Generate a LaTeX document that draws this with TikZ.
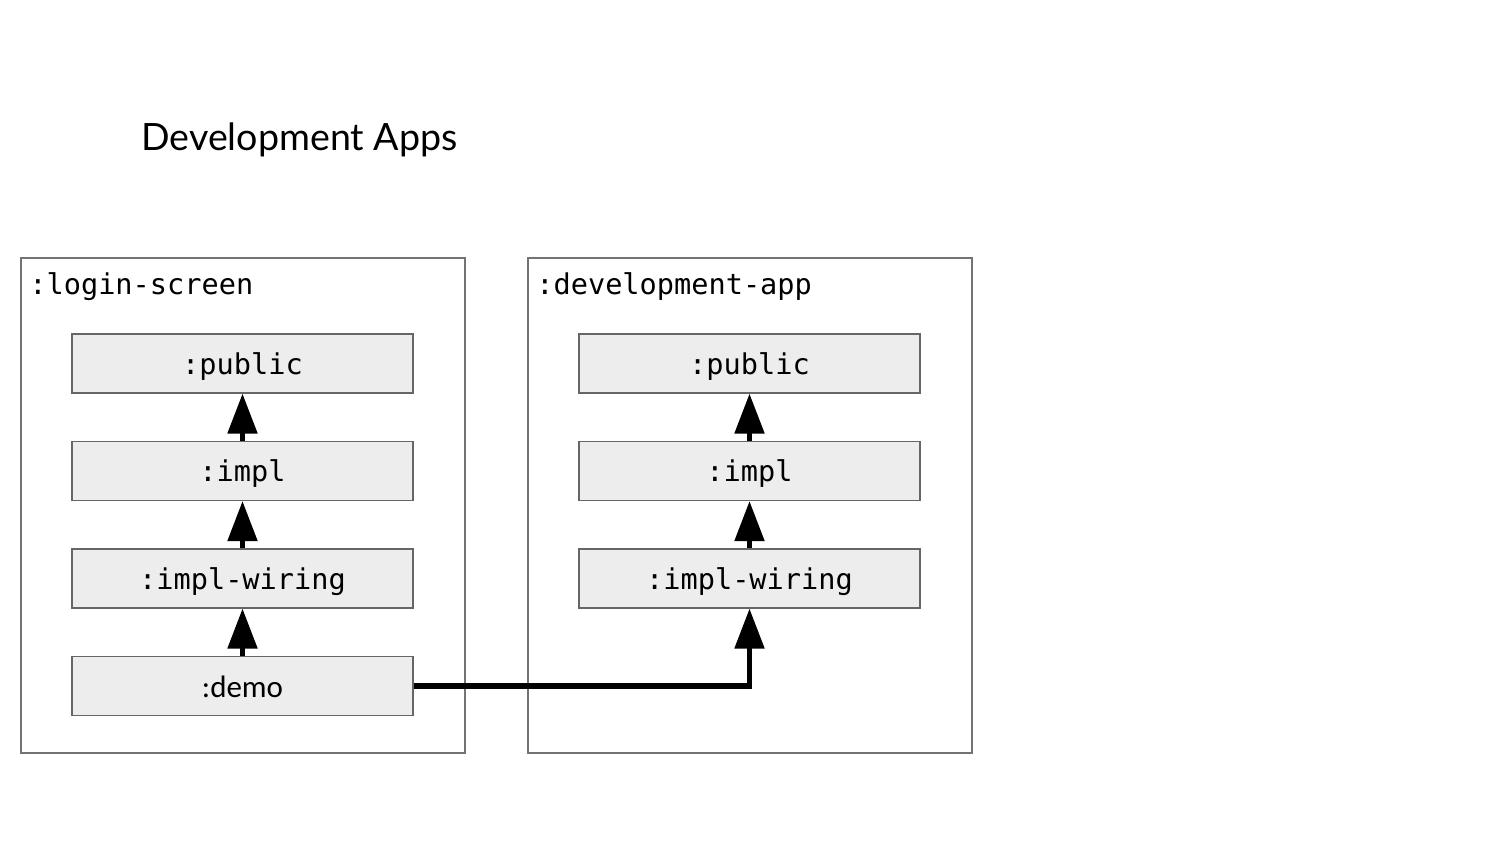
\documentclass[tikz,border=0pt]{standalone}
\usepackage{fontspec}
\setmainfont{Lato}
\newfontfamily\monof{DejaVu Sans Mono}
\newfontfamily\demof{Carlito}
\usetikzlibrary{arrows.meta}
\begin{document}
\begin{tikzpicture}[x=0.5pt,y=-0.5pt,
  outerbox/.style={draw=black!55, line width=0.6pt},
  module/.style={draw=black!60, fill=black!7, line width=0.6pt, minimum width=170.5pt, minimum height=29.5pt, inner sep=0pt, text height=11pt, text depth=0pt, font=\monof\fontsize{14.3}{16}\selectfont},
  dep/.style={line width=2.6pt, -{Triangle[width=14.5pt,length=20pt]}},
  grp/.style={anchor=base west, inner sep=0pt, font=\monof\fontsize{14.3}{16}\selectfont}]
\useasboundingbox (0,0) rectangle (1500,844);
\node[anchor=base west, inner sep=0pt, font=\fontsize{18.8}{22}\selectfont] (title) at (141,151) {Development Apps};
% outer boxes
\draw[outerbox] (21,258) rectangle (465,753);
\draw[outerbox] (528,258) rectangle (972,753);
\node[grp] (lsl) at (29,295) {:login-screen};
\node[grp] (dal) at (536,295) {:development-app};
% left modules
\node[module] (lp) at (242.5,363.5) {:public};
\node[module] (li) at (242.5,471) {:impl};
\node[module] (lw) at (242.5,578.5) {:impl-wiring};
\node[module, font=\demof\fontsize{15.5}{17}\selectfont] (ld) at (242.5,686) {:demo};
% right modules
\node[module] (rp) at (749.5,363.5) {:public};
\node[module] (ri) at (749.5,471) {:impl};
\node[module] (rw) at (749.5,578.5) {:impl-wiring};
% arrows
\draw[dep] (li.north) -- (lp.south);
\draw[dep] (lw.north) -- (li.south);
\draw[dep] (ld.north) -- (lw.south);
\draw[dep] (ri.north) -- (rp.south);
\draw[dep] (rw.north) -- (ri.south);
\draw[dep] (ld.east) -| (rw.south);
\end{tikzpicture}
\end{document}
